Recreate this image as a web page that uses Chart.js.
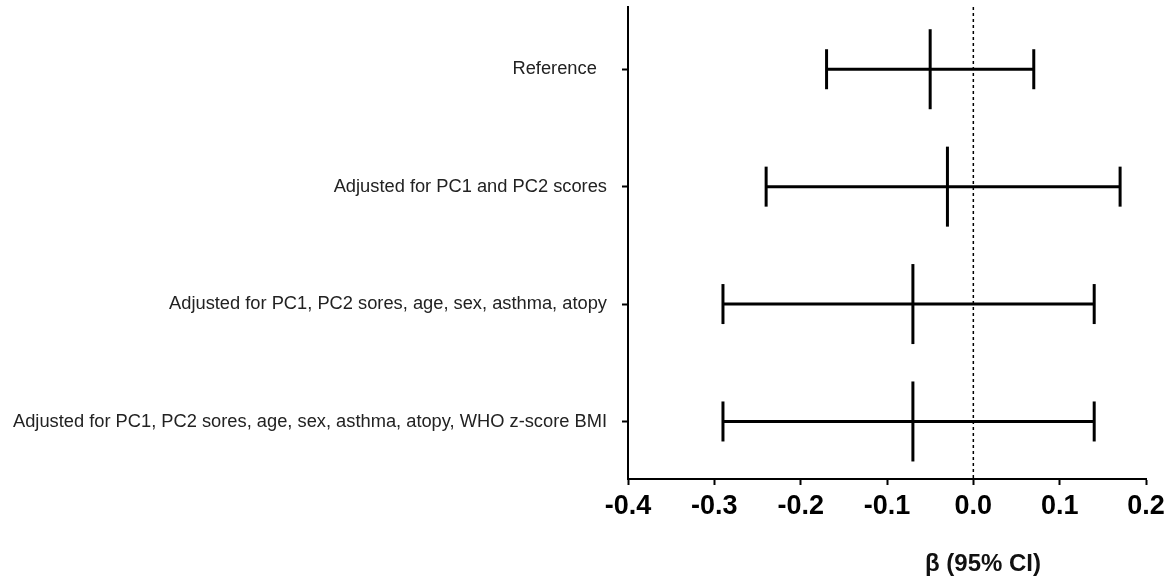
<!DOCTYPE html>
<html>
<head>
<meta charset="utf-8">
<script src="https://cdn.jsdelivr.net/npm/chart.js@4.4.1/dist/chart.umd.min.js"></script>
<style>
  html, body { margin: 0; padding: 0; background: #fff; }
  #wrap { width: 1174px; height: 585px; position: relative; }
</style>
</head>
<body>
<div id="wrap"><canvas id="c" width="1174" height="585"></canvas></div>
<script>
// ---- data ----
const categories = [
  "Reference  ",
  "Adjusted for PC1 and PC2 scores",
  "Adjusted for PC1, PC2 sores, age, sex, asthma, atopy",
  "Adjusted for PC1, PC2 sores, age, sex, asthma, atopy, WHO z-score BMI"
];
const estimates = [-0.05, -0.03, -0.07, -0.07];
const lowerCI   = [-0.17, -0.24, -0.29, -0.29];
const upperCI   = [0.07, 0.17, 0.14, 0.14];
const xTickLabels = ["-0.4", "-0.3", "-0.2", "-0.1", "0.0", "0.1", "0.2"];
const xMin = -0.4, xMax = 0.2;
const referenceLine = 0;
const xTitle = "\u03B2 (95% CI)";

// ---- datasets ----
const datasets = [];
categories.forEach((c, i) => {
  datasets.push({
    type: 'scatter',
    data: [{x: lowerCI[i], y: i}, {x: upperCI[i], y: i}],
    showLine: true,
    borderColor: '#000',
    borderWidth: 3,
    pointStyle: 'line',
    pointRotation: 90,
    pointRadius: 20,
    pointBorderWidth: 3,
    pointBorderColor: '#000',
    pointBackgroundColor: '#000'
  });
});
datasets.push({
  type: 'scatter',
  data: estimates.map((v, i) => ({x: v, y: i})),
  showLine: false,
  pointStyle: 'line',
  pointRotation: 90,
  pointRadius: 40,
  pointBorderWidth: 3,
  pointBorderColor: '#000',
  pointBackgroundColor: '#000'
});

const yMin = -0.53, yMax = 3.49;
datasets.push({
  type: 'scatter',
  data: [{x: referenceLine, y: yMin}, {x: referenceLine, y: yMax}],
  showLine: true,
  borderColor: '#000',
  borderWidth: 1.5,
  borderDash: [3, 3],
  pointRadius: 0
});

const titlePlugin = {
  id: 'xtitle',
  afterDraw(chart) {
    const ctx = chart.ctx;
    const area = chart.chartArea;
    ctx.save();
    ctx.font = 'bold 24px "Liberation Sans", Arial, sans-serif';
    ctx.fillStyle = '#111';
    ctx.textAlign = 'center';
    ctx.textBaseline = 'middle';
    ctx.fillText(xTitle, area.right - 163, 564);
    ctx.restore();
  }
};

new Chart(document.getElementById('c'), {
  type: 'scatter',
  data: { datasets },
  options: {
    responsive: false,
    animation: false,
    events: [],
    layout: { autoPadding: false, padding: { top: 7, right: 28, bottom: 0, left: 0 } },
    plugins: { legend: { display: false }, tooltip: { enabled: false } },
    scales: {
      x: {
        type: 'linear',
        min: xMin, max: xMax,
        afterBuildTicks(scale) {
          scale.ticks = xTickLabels.map(t => ({ value: parseFloat(t) }));
        },
        afterFit(scale) {
          scale.height = 106;
          scale.paddingLeft = 0; scale.paddingRight = 0;
          scale.paddingTop = 0; scale.paddingBottom = 0;
        },
        border: { display: true, color: '#000', width: 2 },
        grid: { drawOnChartArea: false, drawTicks: true, tickLength: 6, tickColor: '#000', tickWidth: 2 },
        ticks: {
          color: '#000',
          padding: 5,
          maxRotation: 0,
          autoSkip: false,
          font: { family: '"Liberation Sans", Arial, sans-serif', size: 27, weight: 'bold' },
          callback: (v, i) => xTickLabels[i]
        }
      },
      y: {
        type: 'linear',
        reverse: true,
        min: yMin, max: yMax,
        afterBuildTicks(scale) {
          scale.ticks = categories.map((_, i) => ({ value: i }));
        },
        afterFit(scale) {
          scale.width = 628;
          scale.paddingLeft = 0; scale.paddingRight = 0;
          scale.paddingTop = 0; scale.paddingBottom = 0;
        },
        border: { display: true, color: '#000', width: 2 },
        grid: { drawOnChartArea: false, drawTicks: true, tickLength: 6, tickColor: '#000', tickWidth: 2 },
        ticks: {
          color: '#222',
          padding: 15,
          autoSkip: false,
          font: { family: '"Liberation Sans", Arial, sans-serif', size: 18.3 },
          callback: (v) => categories[v]
        }
      }
    }
  },
  plugins: [titlePlugin]
});
</script>
</body>
</html>
